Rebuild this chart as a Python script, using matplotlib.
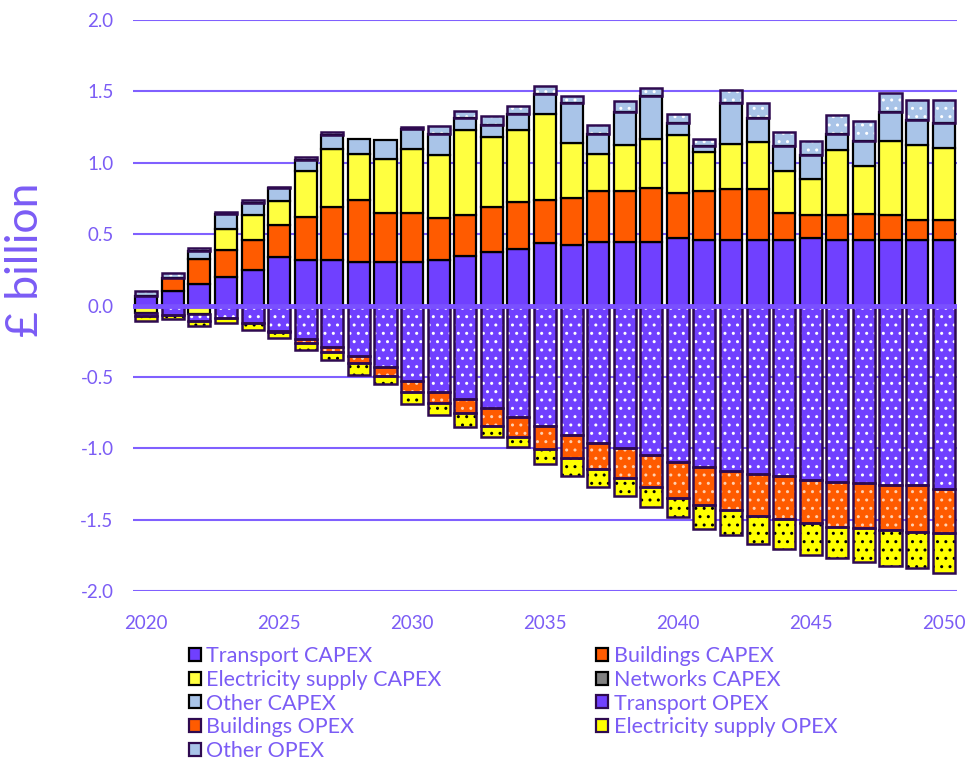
import matplotlib
matplotlib.use("Agg")
import matplotlib.pyplot as plt
import numpy as np
from matplotlib.patches import Patch

plt.rcParams['font.family'] = ['Lato', 'DejaVu Sans']

#%% data (GBP billion)
years = np.arange(2020, 2051)

transport_capex = [0.07, 0.105, 0.15, 0.20, 0.25, 0.34, 0.322, 0.322, 0.308, 0.308,
                   0.308, 0.322, 0.35, 0.374, 0.395, 0.437, 0.423, 0.448, 0.448, 0.448,
                   0.474, 0.46, 0.46, 0.46, 0.46, 0.472, 0.46, 0.46, 0.46, 0.46, 0.46]
buildings_capex = [0.0, 0.09, 0.177, 0.187, 0.21, 0.226, 0.30, 0.365, 0.432, 0.341,
                   0.338, 0.29, 0.287, 0.313, 0.327, 0.304, 0.329, 0.352, 0.352, 0.376,
                   0.313, 0.341, 0.355, 0.355, 0.187, 0.164, 0.175, 0.178, 0.175, 0.14, 0.14]
elec_capex = [-0.05, 0.0, -0.06, 0.147, 0.177, 0.163, 0.318, 0.41, 0.322, 0.376,
              0.453, 0.439, 0.589, 0.49, 0.505, 0.598, 0.388, 0.264, 0.327, 0.339,
              0.404, 0.276, 0.313, 0.327, 0.294, 0.25, 0.451, 0.336, 0.514, 0.525, 0.502]
networks_capex = [0.0, 0.0, 0.0, 0.0, 0.0, 0.0, 0.0, 0.0, 0.0, 0.0,
                  0.0, 0.0, 0.0, 0.0, 0.0, 0.0, 0.0, 0.0, 0.0, 0.0,
                  0.0, 0.0, 0.0, 0.0, 0.0, 0.0, 0.0, 0.0, 0.0, 0.0, 0.0]
other_capex = [0.0, 0.0, 0.056, 0.11, 0.08, 0.094, 0.079, 0.10, 0.105, 0.131,
               0.138, 0.152, 0.089, 0.086, 0.114, 0.14, 0.278, 0.138, 0.226, 0.303,
               0.086, 0.04, 0.29, 0.173, 0.173, 0.166, 0.117, 0.175, 0.203, 0.175, 0.175]
transport_opex = [-0.025, -0.065, -0.05, -0.085, -0.125, -0.18, -0.235, -0.29, -0.354, -0.429,
                  -0.529, -0.604, -0.657, -0.72, -0.783, -0.844, -0.907, -0.961, -0.996, -1.048,
                  -1.097, -1.13, -1.16, -1.183, -1.195, -1.223, -1.237, -1.246, -1.26, -1.26, -1.286]
buildings_opex = [0.0, 0.0, 0.0, 0.0, 0.0, -0.005, -0.03, -0.035, -0.047, -0.065,
                  -0.075, -0.077, -0.098, -0.124, -0.136, -0.161, -0.159, -0.184, -0.21, -0.222,
                  -0.25, -0.27, -0.273, -0.29, -0.301, -0.299, -0.313, -0.315, -0.313, -0.325, -0.31]
elec_opex = [-0.035, -0.03, -0.035, -0.04, -0.05, -0.04, -0.05, -0.055, -0.086, -0.056,
             -0.086, -0.086, -0.098, -0.075, -0.075, -0.105, -0.128, -0.124, -0.128, -0.14,
             -0.138, -0.166, -0.178, -0.20, -0.212, -0.229, -0.222, -0.238, -0.252, -0.252, -0.276]
other_opex = [0.03, 0.03, 0.02, 0.01, 0.02, 0.01, 0.02, 0.02, 0.0, 0.0,
              0.015, 0.053, 0.05, 0.065, 0.054, 0.056, 0.051, 0.065, 0.077, 0.058,
              0.065, 0.049, 0.089, 0.103, 0.10, 0.10, 0.128, 0.14, 0.138, 0.14, 0.164]

labels = ['Transport CAPEX', 'Buildings CAPEX', 'Electricity supply CAPEX',
          'Networks CAPEX', 'Other CAPEX', 'Transport OPEX', 'Buildings OPEX',
          'Electricity supply OPEX', 'Other OPEX']
series = [transport_capex, buildings_capex, elec_capex, networks_capex, other_capex,
          transport_opex, buildings_opex, elec_opex, other_opex]

#%% styles
purple = '#7040FF'
orange = '#FF5B00'
yellow = '#FFFF40'
grey = '#808080'
lightblue = '#A9C4E8'
txt = '#7B5CF5'
dark = '#2E0A50'

faces = [purple, orange, yellow, grey, lightblue, purple, orange, '#FFFF00', lightblue]
hatches = [None, None, None, None, None, '..', '..', '..', '..']
hatch_cols = [None, None, None, None, None, 'white', '#FFD0B0', 'black', 'white']
edges = ['black'] * 5 + [dark] * 4

#%% plot
fig = plt.figure(figsize=(9.68, 7.63), dpi=100)
ax = fig.add_axes([0.1374, 0.2254, 0.8512, 0.7484])

width = 0.83
pos_bottom = np.zeros(len(years))
neg_bottom = np.zeros(len(years))

for vals, fc, h, hc, ec in zip(series, faces, hatches, hatch_cols, edges):
    v = np.array(vals, dtype=float)
    bottom = np.where(v >= 0, pos_bottom, neg_bottom)
    mask = v != 0
    if h is not None:
        ax.bar(years[mask], v[mask], width, bottom=bottom[mask], color=fc,
               edgecolor=hc, hatch=h, linewidth=0, zorder=2)
        ax.bar(years[mask], v[mask], width, bottom=bottom[mask], fill=False,
               edgecolor=ec, linewidth=1.8, zorder=3)
    else:
        ax.bar(years[mask], v[mask], width, bottom=bottom[mask], color=fc,
               edgecolor=ec, linewidth=1.6, zorder=3)
    pos_bottom = pos_bottom + np.where(v > 0, v, 0)
    neg_bottom = neg_bottom + np.where(v < 0, v, 0)

ax.set_xlim(2019.5, 2050.5)
ax.set_ylim(-2.0, 2.0)
ax.set_yticks(np.arange(-2.0, 2.01, 0.5))
ax.set_yticklabels(['%.1f' % t for t in np.arange(-2.0, 2.01, 0.5)])
ax.set_xticks([2020, 2025, 2030, 2035, 2040, 2045, 2050])

ax.yaxis.grid(True, color='#8060FF', linewidth=1.5, zorder=0)
ax.set_axisbelow(True)
ax.axhline(0, color='#7A50FF', linewidth=3.5, zorder=5)

for s in ax.spines.values():
    s.set_visible(False)
ax.tick_params(axis='both', length=0, colors=txt, labelsize=13.5)
ax.tick_params(axis='y', pad=14)
ax.tick_params(axis='x', pad=17)

ax.set_ylabel('£ billion', color=txt, fontsize=32)
ax.yaxis.set_label_coords(-0.105, 0.58)

handles = [Patch(facecolor=fc, edgecolor=ec, linewidth=1.6) for fc, ec in zip(faces, edges)]
order = [0, 2, 4, 6, 8, 1, 3, 5, 7]
leg = fig.legend([handles[i] for i in order], [labels[i] for i in order],
                 loc='upper left', bbox_to_anchor=(0.195, 0.153), ncol=2,
                 frameon=False, fontsize=15.5, handlelength=0.55, handleheight=0.55,
                 handletextpad=0.25, labelspacing=0.17, columnspacing=7.2,
                 borderaxespad=0, borderpad=0)
for t in leg.get_texts():
    t.set_color(txt)

fig.savefig('out.png', dpi=100)
